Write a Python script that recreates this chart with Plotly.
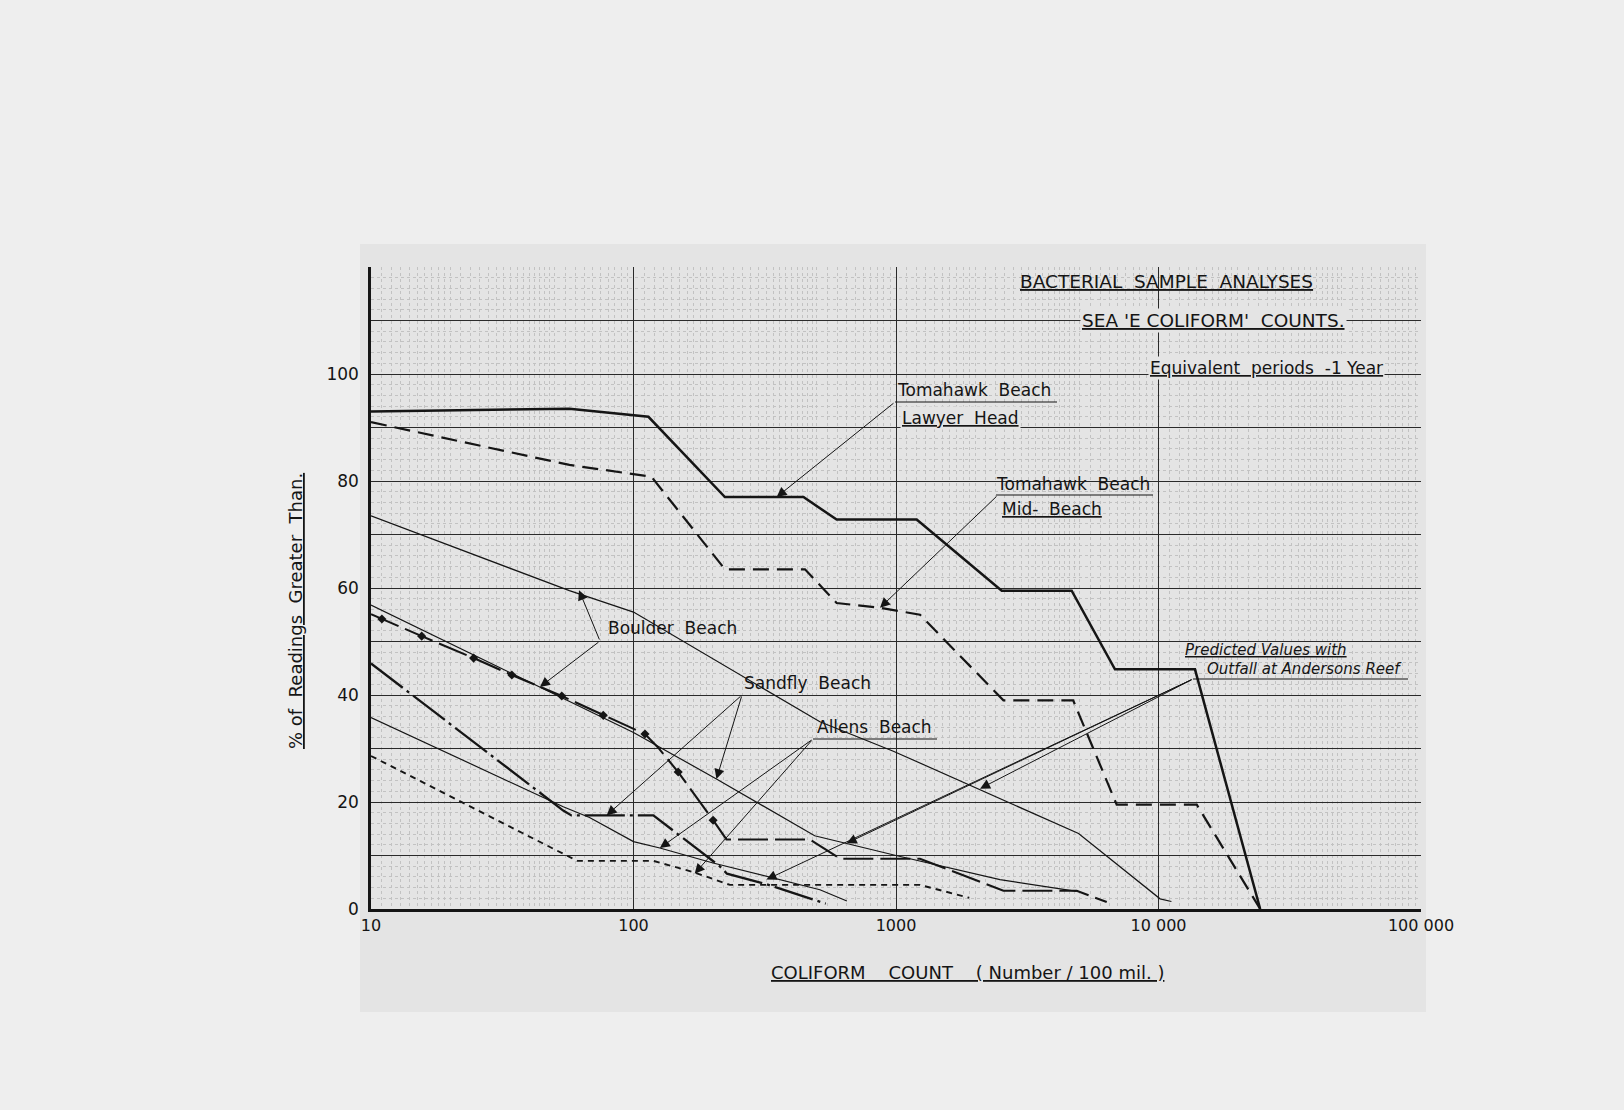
import math
import plotly.graph_objects as go

# ---------------- data ----------------
lawyer_x = [10, 57, 114, 223, 444, 594, 1199, 2528, 4669, 6826, 13770, 24400]
lawyer_y = [93, 93.5, 92, 77, 77, 72.8, 72.8, 59.5, 59.5, 44.8, 44.8, 0]

midbeach_x = [10, 57, 117, 223, 450, 594, 869, 1234, 2566, 4730, 6930, 13990, 24400]
midbeach_y = [91, 83, 80.8, 63.5, 63.5, 57.2, 56.3, 55, 39, 39, 19.5, 19.5, 0]

boulder_a_x = [10, 57, 100, 255, 513, 977, 4960, 10140, 11200]
boulder_a_y = [73.5, 59.5, 55.5, 43.7, 35, 29.5, 14.1, 1.9, 1.4]

line_b_x = [10, 100, 207, 490, 1000, 2490, 4880]
line_b_y = [56.8, 33, 24.3, 13.7, 10, 5.5, 3.3]

line_c_x = [10, 11, 15.6, 24.6, 34.4, 53.3, 76.7, 110.6, 124, 148, 201, 226, 470, 612, 1234, 2566, 4880, 6350]
line_c_y = [55.1, 54.2, 51, 46.9, 43.75, 39.8, 36.2, 32.7, 30.2, 25.6, 16.6, 13, 13, 9.4, 9.4, 3.4, 3.4, 1.3]
line_c_marked_x = [11, 15.6, 24.6, 34.4, 53.3, 76.7, 110.6, 148, 201]
line_c_marked_y = [54.2, 51, 46.9, 43.75, 39.8, 36.2, 32.7, 25.6, 16.6]

line_d_x = [10, 54, 58, 119, 213, 227, 322, 540]
line_d_y = [45.9, 18.4, 17.5, 17.5, 8, 6.6, 4.6, 1.0]

line_e_x = [10, 54, 68, 100, 126, 201, 513, 650]
line_e_y = [35.8, 19.1, 17.1, 12.6, 11.4, 8.6, 3.6, 1.5]

line_f_x = [10, 54, 61, 119, 169, 233, 1234, 1900]
line_f_y = [28.6, 10.4, 9, 9, 6.9, 4.5, 4.5, 2.1]

x_tick_vals = [10, 100, 1000, 10000, 100000]
x_tick_text = ["10", "100", "1000", "10\u00a0000", "100\u00a0000"]
y_tick_vals = [0, 10, 20, 30, 40, 50, 60, 70, 80, 90, 100, 110, 120]
y_tick_text = ["0", "", "20", "", "40", "", "60", "", "80", "", "100", "", ""]

# arrow targets (count, percent) on the curves
lawyer_arrow_tip = (351, 77)
midbeach_arrow_tip = (869, 56.3)
boulder_arrow_tips = [(62, 59.6), (44, 41.5)]
sandfly_arrow_tips = [(79, 17.5), (207, 24.3)]
allens_arrow_tips = [(126, 11.4), (171, 6.6)]
predicted_arrow_tips = [(2090, 22.5), (649, 12.3), (321, 5.5)]

# ---------------- layout geometry ----------------
W, H = 1624, 1110
L, R, T, B = 371, 1421, 267, 909
INK = "#151515"
PAPER = "#eeeeee"
GRAPH = "#e4e4e4"
FONT = "DejaVu Sans, Liberation Sans, sans-serif"


def px_paper(px, py):
    return (px - L) / (R - L), (B - py) / (B - T)


def px_data(px, py):
    return 1 + (px - L) / ((R - L) / 4.0), (B - py) / ((B - T) / 120.0)


fig = go.Figure()


def add_line(xs, ys, width, dash, name):
    fig.add_trace(go.Scatter(x=xs, y=ys, mode="lines", name=name,
                             line=dict(color=INK, width=width, dash=dash),
                             hoverinfo="skip", showlegend=False))


add_line(lawyer_x, lawyer_y, 2.5, "solid", "Tomahawk Beach - Lawyer Head")
add_line(midbeach_x, midbeach_y, 2.2, "16px,8px", "Tomahawk Beach - Mid-Beach")
add_line(boulder_a_x, boulder_a_y, 1.2, "solid", "Boulder Beach")
add_line(line_b_x, line_b_y, 1.2, "solid", "Sandfly Beach")
add_line(line_c_x, line_c_y, 2.1, "30px,7px", "Boulder Beach (2)")
fig.add_trace(go.Scatter(x=line_c_marked_x, y=line_c_marked_y, mode="markers",
                         marker=dict(symbol="diamond", size=7, color=INK),
                         hoverinfo="skip", showlegend=False))
add_line(line_d_x, line_d_y, 2.3, "40px,5px,3px,5px", "Sandfly Beach (2)")
add_line(line_e_x, line_e_y, 1.2, "solid", "Allens Beach")
add_line(line_f_x, line_f_y, 1.9, "6px,5px", "Allens Beach (2)")

# minor graph-paper grid positions
minor_x = []
for k in range(1, 5):
    base = 10 ** k
    minor_x += [base * (1 + 0.1 * i) for i in range(1, 10)]
    minor_x += [base * (2 + 0.2 * i) for i in range(0, 15)]
    minor_x += [base * (5 + 0.5 * i) for i in range(0, 10)]

fig.update_xaxes(type="log", range=[1, 5], tickmode="array",
                 tickvals=x_tick_vals, ticktext=x_tick_text,
                 showgrid=True, gridcolor="#2a2a2a", gridwidth=1.3,
                 showline=True, linecolor=INK, linewidth=2.5,
                 ticks="", ticklabelstandoff=0,
                 tickfont=dict(family=FONT, size=16, color=INK),
                 minor=dict(tickmode="array", tickvals=minor_x, showgrid=True,
                            gridcolor="#c2c2c2", gridwidth=0.6, griddash="dot"),
                 zeroline=False)
fig.update_yaxes(range=[0, 120], tickmode="array",
                 tickvals=y_tick_vals, ticktext=y_tick_text,
                 showgrid=True, gridcolor="#2a2a2a", gridwidth=1.3,
                 showline=True, linecolor=INK, linewidth=2.5,
                 ticks="", ticklabelstandoff=6,
                 tickfont=dict(family=FONT, size=17, color=INK),
                 minor=dict(dtick=2, showgrid=True, gridcolor="#c2c2c2",
                            gridwidth=0.6, griddash="dot"),
                 zeroline=False)

annotations = []


def text_at(txt, px, py, size, under=True, italic=False, bg=None, angle=0):
    xp, yp = px_paper(px, py)
    f = dict(family=FONT, size=size, color=INK)
    if under:
        f["lineposition"] = "under"
    if italic:
        f["style"] = "italic"
    a = dict(text=txt, x=xp, y=yp, xref="paper", yref="paper",
             xanchor="center", yanchor="middle", showarrow=False,
             font=f, textangle=angle)
    if bg:
        a["bgcolor"] = bg
    annotations.append(a)


def arrow(tail_px, tip):
    ax, ay = px_data(*tail_px)
    annotations.append(dict(text="", x=math.log10(tip[0]), y=tip[1],
                            xref="x", yref="y", axref="x", ayref="y",
                            ax=ax, ay=ay, showarrow=True, arrowhead=2,
                            arrowsize=2, arrowwidth=1, arrowcolor=INK,
                            standoff=0, startstandoff=0))


text_at("BACTERIAL\u00a0 SAMPLE\u00a0 ANALYSES", 1166, 282, 18.5)
text_at("SEA\u00a0'E\u00a0COLIFORM'\u00a0 COUNTS.", 1213, 320, 18.5, bg=GRAPH)
text_at("Equivalent\u00a0 periods\u00a0 -1 Year", 1266, 368, 17, bg=GRAPH)
text_at("Tomahawk\u00a0 Beach", 974, 390, 17, under=False)
text_at("Lawyer\u00a0 Head", 960, 418, 17, bg=GRAPH)
text_at("Tomahawk\u00a0 Beach", 1073, 484, 17, under=False)
text_at("Mid-\u00a0 Beach", 1052, 509, 17)
text_at("Boulder\u00a0 Beach", 672, 628, 17, under=False)
text_at("Sandfly\u00a0 Beach", 807, 683, 17, under=False)
text_at("Allens\u00a0 Beach", 874, 727, 17, under=False)
text_at("Predicted Values with", 1266, 650, 15, italic=True)
text_at("Outfall at Andersons Reef", 1304, 669, 15, italic=True, under=False)
text_at("% of\u00a0 Readings\u00a0 Greater\u00a0 Than.", 295, 611, 18, angle=-90)
text_at("COLIFORM\u00a0\u00a0\u00a0 COUNT\u00a0\u00a0\u00a0 (\u00a0Number / 100 mil.\u00a0)", 967, 972, 18)

arrow((895, 402), lawyer_arrow_tip)
arrow((998, 495), midbeach_arrow_tip)
for t in boulder_arrow_tips:
    arrow((600, 641), t)
for t in sandfly_arrow_tips:
    arrow((742, 695), t)
for t in allens_arrow_tips:
    arrow((813, 739), t)
for t in predicted_arrow_tips:
    arrow((1193, 679), t)

# graph-paper sheet behind the plot area
x0, y0 = px_paper(360, 1012)
x1, y1 = px_paper(1426, 244)
shapes = [dict(type="rect", xref="paper", yref="paper", x0=x0, y0=y0, x1=x1, y1=y1,
               fillcolor=GRAPH, line=dict(width=0), layer="below")]
# leader underlines from label text to arrow origins
for (xa, ya, xb, yb) in [(895, 402, 1057, 402), (996, 495, 1153, 495),
                         (813, 739, 937, 739), (1193, 679, 1408, 679)]:
    p0 = px_paper(xa, ya)
    p1 = px_paper(xb, yb)
    shapes.append(dict(type="line", xref="paper", yref="paper",
                       x0=p0[0], y0=p0[1], x1=p1[0], y1=p1[1],
                       line=dict(color=INK, width=1.2)))

fig.update_layout(width=W, height=H,
                  margin=dict(l=L, r=W - R, t=T, b=H - B, pad=0),
                  paper_bgcolor=PAPER, plot_bgcolor=GRAPH,
                  annotations=annotations, shapes=shapes,
                  showlegend=False,
                  font=dict(family=FONT, color=INK))

fig.write_html("out.html")
